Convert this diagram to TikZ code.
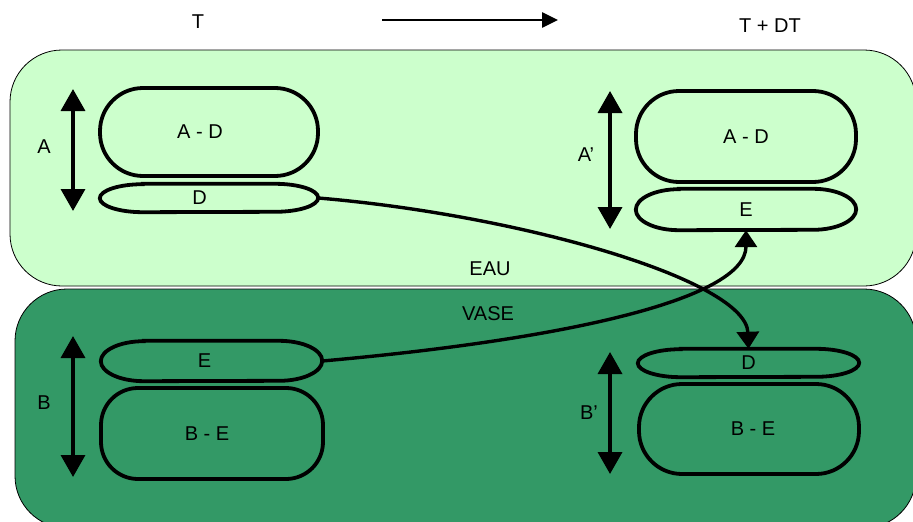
\documentclass[tikz,border=0pt]{standalone}
\usepackage{fontspec}
\setmainfont{Liberation Sans}
\usetikzlibrary{arrows.meta}
\definecolor{eau}{HTML}{CCFFCC}
\definecolor{vase}{HTML}{339966}
\newcommand\capsuleline[2]{%
  \draw[capline] ([xshift=43pt]#1.north west) -- ([xshift=-43pt]#1.north east)
    arc[start angle=90,end angle=-90,x radius=43pt,y radius=#2]
    -- ([xshift=43pt]#1.south west)
    arc[start angle=270,end angle=90,x radius=43pt,y radius=#2] -- cycle;}
\begin{document}
\begin{tikzpicture}[x=1pt,y=1pt,
  every node/.style={font=\fontsize{20}{24}\selectfont, inner sep=0pt},
  zone/.style={draw=black, line width=0.8pt, rounded corners=52pt},
  capline/.style={line width=3.8pt},
  bigcap/.style={draw, line width=3.8pt, rounded corners=43pt, minimum width=#1},
  thincap/.style={minimum width=#1},
  dimarrow/.style={line width=3.6pt, {Triangle[width=24pt,length=22pt]}-{Triangle[width=24pt,length=22pt]}},
  flow/.style={line width=3.4pt, -{Triangle[width=22pt,length=17pt]}},
  timearrow/.style={line width=2.6pt, -{Triangle[width=15pt,length=16pt]}}]
\useasboundingbox (0,0) rectangle (913,-522);
% zones
\draw[zone, fill=eau] (10,-50) rectangle (916,-286);
\draw[zone, fill=vase] (15,-289) rectangle (916,-528);
% top
\node (T) at (198,-22) {T};
\node (TDT) at (770,-26) {T + DT};
\coordinate (t1) at (382,-20);
\coordinate (t2) at (558,-20);
\draw[timearrow] (t1) -- (t2);
% zone labels
\node (eaulab) at (490,-269) {EAU};
\node (vaselab) at (488,-314) {VASE};
% left top
\node[bigcap=218pt, minimum height=88pt] (ADl) at (209,-132) {A - D\hspace*{18pt}};
\node[thincap=218pt, minimum height=28pt] (Dl) at (209,-198) {D\hspace*{19pt}};
\capsuleline{Dl}{14pt}
\coordinate (a1) at (73,-89);
\coordinate (a2) at (73,-211);
\draw[dimarrow] (a1) -- (a2);
\node (Alab) at (44,-147) {A};
% right top
\node[bigcap=220pt, minimum height=91pt] (ADr) at (746,-136.5) {A - D};
\node[thincap=220pt, minimum height=41pt] (Er) at (746,-209.5) {E};
\capsuleline{Er}{20.5pt}
\coordinate (ap1) at (610,-91);
\coordinate (ap2) at (610,-229);
\draw[dimarrow] (ap1) -- (ap2);
\node (Aplab) at (586,-155) {A’};
% left bottom
\node[thincap=221pt, minimum height=40pt] (El) at (211.5,-361) {E\hspace*{14pt}};
\capsuleline{El}{20pt}
\node[bigcap=222pt, minimum height=91pt, rounded corners=37pt] (BEl) at (212,-433.5) {B - E\hspace*{10pt}};
\coordinate (b1) at (73,-336);
\coordinate (b2) at (73,-477);
\draw[dimarrow] (b1) -- (b2);
\node (Blab) at (44,-403) {B};
% right bottom
\node[thincap=221pt, minimum height=28pt] (Dr) at (748.5,-363) {D};
\capsuleline{Dr}{14pt}
\node[bigcap=220pt, minimum height=90pt] (BEr) at (749,-429) {\hspace*{8pt}B - E};
\coordinate (bp1) at (610,-352);
\coordinate (bp2) at (610,-474);
\draw[dimarrow] (bp1) -- (bp2);
\node (Bplab) at (589,-413) {B’};
% flows
\draw[flow] (Dl.east) .. controls (520,-215) and (746,-280) .. (Dr.north);
\draw[flow] (El.east) .. controls (560,-340) and (746,-300) .. (Er.south);
\end{tikzpicture}
\end{document}
